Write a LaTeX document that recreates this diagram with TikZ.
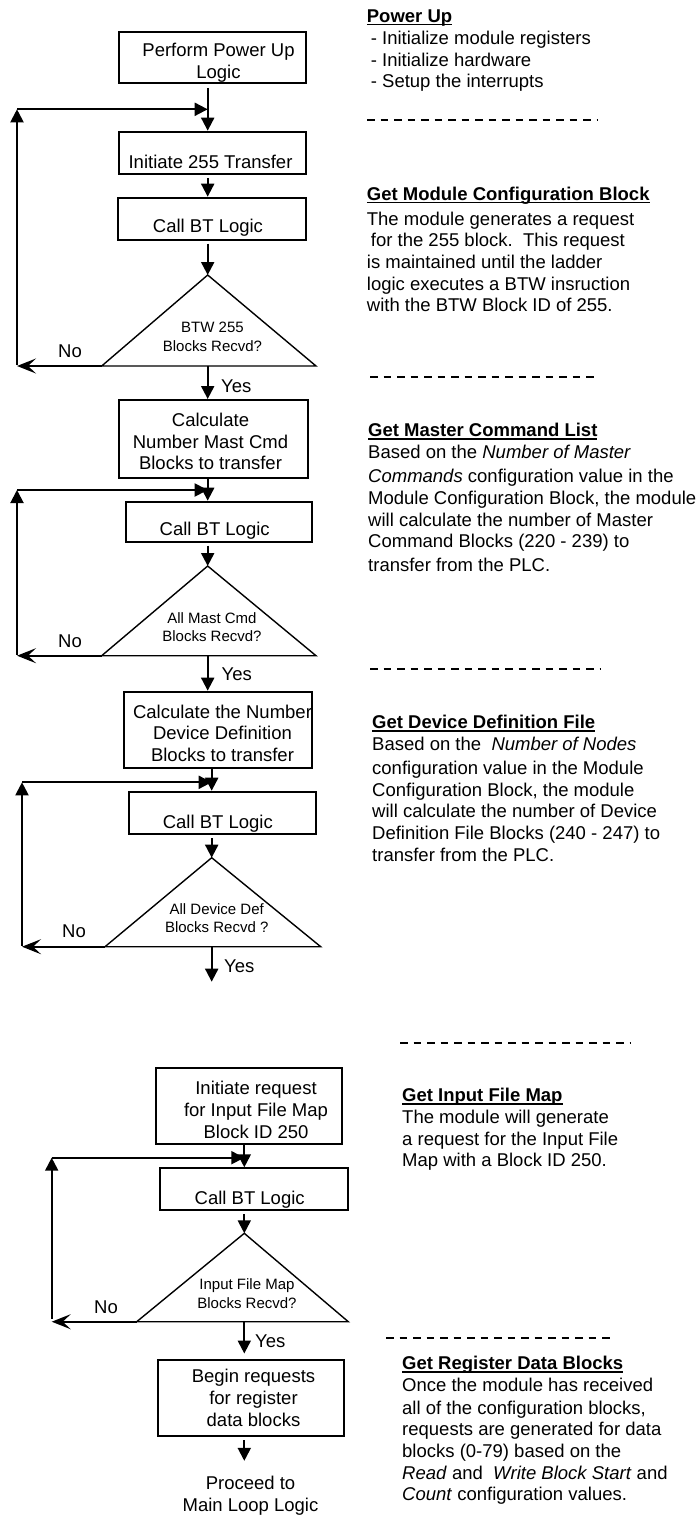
\documentclass[tikz,border=0pt]{standalone}
\usepackage{fontspec}
\setmainfont{Liberation Sans}
\usetikzlibrary{arrows.meta}

% bold heading with a rule just under the baseline
\newsavebox\hdbox
\newcommand\hd[1]{\sbox\hdbox{\bfseries #1}\rlap{\rule[-3.2pt]{\wd\hdbox}{1.6pt}}\usebox\hdbox}

\begin{document}
\begin{tikzpicture}[x=1pt,y=-1pt,
  box/.style={draw, line width=2pt, inner sep=0pt},
  txt/.style={font=\fontsize{18.5}{21.7}\selectfont, align=center, inner sep=0pt},
  qtxt/.style={font=\fontsize{15}{18.7}\selectfont, align=center, inner sep=0pt},
  note/.style={font=\fontsize{18.5}{21.7}\selectfont, align=left, inner sep=0pt, anchor=north west},
  tri/.style={draw, line width=1.4pt, line join=miter},
  arr/.style={line width=2pt, -{Triangle[length=13pt,width=13pt]}},
  noarr/.style={line width=2pt, -{Stealth[length=19pt,width=15pt,inset=8pt]}},
  sep/.style={line width=2pt, dash pattern=on 7.5pt off 6pt}]

\fill[white] (0,0) rectangle (700,1515);
\useasboundingbox (0,0) rectangle (700,1515);

% flow axes
\coordinate (axA) at (207.7,0);
\coordinate (axB) at (211.7,0);
\coordinate (axC) at (244.3,0);

% ---------- process boxes ----------
\node[box, minimum width=186.7, minimum height=51.6] (pwr)   at (212.65,57.5)  {};
\node[box, minimum width=186.7, minimum height=42]   (init)  at (212.65,152.7) {};
\node[box, minimum width=188.3, minimum height=42.3] (bt1)   at (211.85,218.85) {};
\node[box, minimum width=189,   minimum height=77.7] (calc1) at (213.8,438.85) {};
\node[box, minimum width=186.6, minimum height=40]   (bt2)   at (219,521.7) {};
\node[box, minimum width=188.3, minimum height=76]   (calc2) at (218.15,729.7) {};
\node[box, minimum width=186.7, minimum height=42.3] (bt3)   at (222.65,812.85) {};
\node[box, minimum width=186.6, minimum height=76.3] (req)   at (249,1105.85) {};
\node[box, minimum width=187.7, minimum height=41.7] (bt4)   at (253.85,1189.15) {};
\node[box, minimum width=186.3, minimum height=75.7] (begin) at (250.85,1397.85) {};

\node[txt] (pwr-t)   at (218.5,62.5)  {Perform Power Up\\Logic};
\node[txt] (init-t)  at (210.5,162)   {Initiate 255 Transfer};
\node[txt] (bt1-t)   at (208,227.8)   {Call BT Logic};
\node[txt] (calc1-t) at (210.5,441.4) {Calculate\\Number Mast Cmd\\Blocks to transfer};
\node[txt] (bt2-t)   at (214.7,531)   {Call BT Logic};
\node[txt] (calc2-t) at (222.5,733.3) {Calculate the Number\\Device Definition\\Blocks to transfer};
\node[txt] (bt3-t)   at (217.8,823.5) {Call BT Logic};
\node[txt] (req-t)   at (256,1110)    {Initiate request\\for Input File Map\\Block ID 250};
\node[txt] (bt4-t)   at (249.7,1200)  {Call BT Logic};
\node[txt] (begin-t) at (253.5,1397.7) {Begin requests\\for register\\data blocks};
\node[txt] (end-t)   at (250.5,1495.5) {Proceed to\\Main Loop Logic};

% ---------- decision triangles ----------
\coordinate (q1top) at (207.7,275);   \coordinate (q1l) at (101.7,366);   \coordinate (q1r) at (316,366);
\coordinate (q2top) at (207.7,566);   \coordinate (q2l) at (101.7,655.7); \coordinate (q2r) at (316,655.7);
\coordinate (q3top) at (211.7,857.7); \coordinate (q3l) at (105,946.7);   \coordinate (q3r) at (320.7,946.7);
\coordinate (q4top) at (244.3,1233.3);\coordinate (q4l) at (136.7,1321.7);\coordinate (q4r) at (348.3,1321.7);

\draw[tri] (q1top) -- (q1r) -- (q1l) -- cycle;
\draw[tri] (q2top) -- (q2r) -- (q2l) -- cycle;
\draw[tri] (q3top) -- (q3r) -- (q3l) -- cycle;
\draw[tri] (q4top) -- (q4r) -- (q4l) -- cycle;

\node[qtxt] (q1-t) at (212.5,337)   {BTW 255\\Blocks Recvd?};
\node[qtxt] (q2-t) at (212,627)     {All Mast Cmd\\Blocks Recvd?};
\node[qtxt] (q3-t) at (216.7,918)   {All Device Def\\Blocks Recvd ?};
\node[qtxt] (q4-t) at (247,1293.5)  {Input File Map\\Blocks Recvd?};

% ---------- loop-back corners ----------
\coordinate (r1lo) at (17,366);     \coordinate (r1hi) at (17,109.3);
\coordinate (r2lo) at (17,655.7);   \coordinate (r2hi) at (17,490);
\coordinate (r3lo) at (22,946.7);   \coordinate (r3hi) at (22,782.3);
\coordinate (r4lo) at (51.7,1321.7);\coordinate (r4hi) at (51.7,1157.7);
\coordinate (done3) at (211.7,981.7);

% ---------- connectors ----------
\draw[arr, shorten <=3.5pt] (pwr.south -| axA) -- (init.north -| axA);
\draw[arr, shorten <=3.5pt] (init.south -| axA) -- (bt1.north -| axA);
\draw[arr, shorten <=2.5pt] (bt1.south -| axA) -- (q1top);
\draw[noarr] (q1l) -- (r1lo);
\draw[arr] ([yshift=1pt]r1lo) -- (r1hi);
\draw[arr] (r1hi) -- (r1hi -| axA);
\draw[arr] (axA |- q1l) -- (calc1.north -| axA);

\draw[arr] (calc1.south -| axA) -- (bt2.north -| axA);
\draw[arr, shorten <=3pt] (bt2.south -| axA) -- (q2top);
\draw[noarr] (q2l) -- (r2lo);
\draw[arr] ([yshift=1pt]r2lo) -- (r2hi);
\draw[arr] (r2hi) -- (r2hi -| axA);
\draw[arr] (axA |- q2l) -- (calc2.north -| axA);

\draw[arr] (calc2.south -| axB) -- (bt3.north -| axB);
\draw[arr, shorten <=3pt] (bt3.south -| axB) -- (q3top);
\draw[noarr] (q3l) -- (r3lo);
\draw[arr] ([yshift=1pt]r3lo) -- (r3hi);
\draw[arr] (r3hi) -- (r3hi -| axB);
\draw[arr] (axB |- q3l) -- (done3);

\draw[arr] (req.south -| axC) -- (bt4.north -| axC);
\draw[arr, shorten <=3pt] (bt4.south -| axC) -- (q4top);
\draw[noarr] (q4l) -- (r4lo);
\draw[arr] ([yshift=3pt]r4lo) -- (r4hi);
\draw[arr] (r4hi) -- (r4hi -| axC);
\draw[arr, shorten >=5.5pt] (axC |- q4l) -- (begin.north -| axC);
\draw[arr, shorten <=3.5pt, shorten >=15pt] (begin.south -| axC) -- (end-t.north -| axC);

% branch labels
\node[txt] (no1) at (70,351.7)  {No};
\node[txt] (no2) at (70,641.7)  {No};
\node[txt] (no3) at (74,931.7)  {No};
\node[txt] (no4) at (106,1307.3) {No};
\node[txt, anchor=west] (yes1) at (221,386)    {Yes};
\node[txt, anchor=west] (yes2) at (221.5,674)  {Yes};
\node[txt, anchor=west] (yes3) at (224,966)    {Yes};
\node[txt, anchor=west] (yes4) at (255,1341.7) {Yes};

% ---------- description column ----------
\node[note, font=\fontsize{18.5}{21.9}\selectfont] (s-power) at (366.7,9.3)
  {\hd{Power Up}\\\hspace*{4pt}- Initialize module registers\\\hspace*{4pt}- Initialize hardware\\\hspace*{4pt}- Setup the interrupts};

\node[note] (s-cfg) at (366.7,186.5)
  {\hd{Get Module Configuration Block}\\[3.3pt]The module generates a request\\\hspace*{4pt}for the 255 block.\ \ This request\\is maintained until the ladder\\logic executes a BTW insruction\\with the BTW Block ID of 255.};

\node[note] (s-mcl) at (368,423.2)
  {\hd{Get Master Command List}\\Based on the \textit{Number of Master}\\[2.6pt]\textit{Commands} configuration value in the\\Module Configuration Block, the module\\will calculate the number of Master\\Command Blocks (220 - 239) to\\[2.3pt]transfer from the PLC.};

\node[note] (s-ddf) at (372,714.8)
  {\hd{Get Device Definition File}\\Based on the\ \ \textit{Number of Nodes}\\[2.7pt]configuration value in the Module\\Configuration Block, the module\\will calculate the number of Device\\Definition File Blocks (240 - 247) to\\transfer from the PLC.};

\node[note] (s-ifm) at (402,1088.2)
  {\hd{Get Input File Map}\\The module will generate\\a request for the Input File\\Map with a Block ID 250.};

\node[note] (s-reg) at (402,1355.8)
  {\hd{Get Register Data Blocks}\\Once the module has received\\[1.3pt]all of the configuration blocks,\\requests are generated for data\\blocks (0-79) based on the\\\textit{Read} and\ \ \textit{Write Block Start} and\\\textit{Count} configuration values.};

% section separators
\coordinate (d1a) at (367,120);    \coordinate (d1b) at (597,120);
\coordinate (d2a) at (370,376.7);  \coordinate (d2b) at (597,376.7);
\coordinate (d3a) at (370,668.5);  \coordinate (d3b) at (600,668.5);
\coordinate (d4a) at (400,1042.7); \coordinate (d4b) at (630,1042.7);
\coordinate (d5a) at (386,1338.3); \coordinate (d5b) at (615,1338.3);
\draw[sep] (d1a) -- (d1b);
\draw[sep] (d2a) -- (d2b);
\draw[sep] (d3a) -- (d3b);
\draw[sep] (d4a) -- (d4b);
\draw[sep] (d5a) -- (d5b);

\end{tikzpicture}
\end{document}
